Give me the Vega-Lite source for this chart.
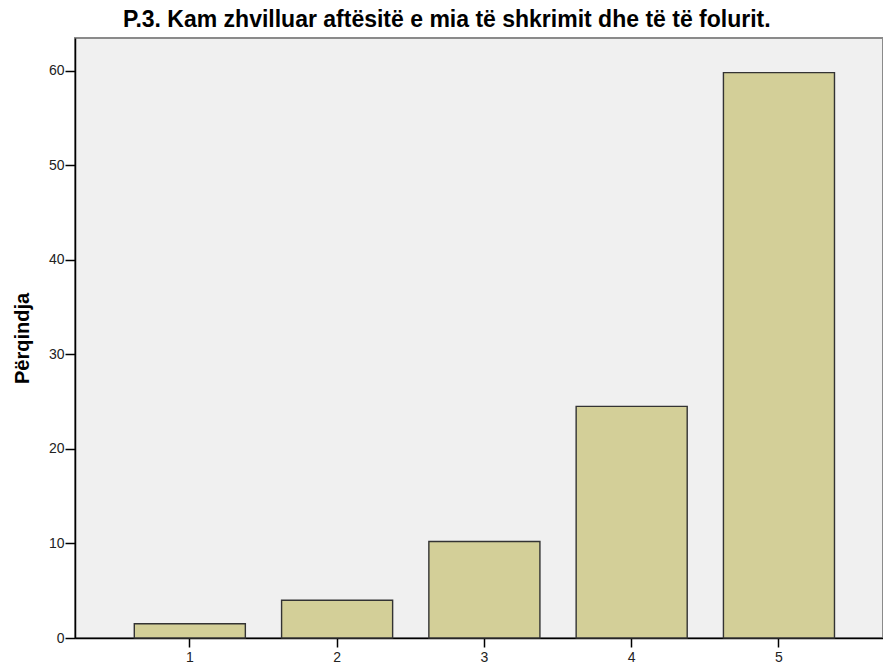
{
  "$schema": "https://vega.github.io/schema/vega-lite/v6.json",
  "width": 808,
  "height": 600,
  "autosize": {"type": "none"},
  "padding": {"left": 75, "top": 38, "right": 0, "bottom": 29},
  "background": "#ffffff",
  "title": {
    "text": "P.3. Kam zhvilluar aftësitë e mia të shkrimit dhe të të folurit.",
    "font": "Liberation Sans",
    "fontSize": 23,
    "fontWeight": "bold",
    "color": "#000000",
    "anchor": "start",
    "frame": "group",
    "dx": 48,
    "offset": 6
  },
  "config": {
    "view": {"fill": "#f0f0f0", "stroke": "#8a8a8a", "strokeWidth": 2},
    "axis": {
      "labelFont": "Liberation Sans",
      "titleFont": "Liberation Sans",
      "labelColor": "#222222",
      "domainColor": "#000000",
      "tickColor": "#000000",
      "grid": false
    }
  },
  "data": {
    "values": [
      {"kategoria": "1", "perqindja": 1.5},
      {"kategoria": "2", "perqindja": 4.0},
      {"kategoria": "3", "perqindja": 10.2},
      {"kategoria": "4", "perqindja": 24.5},
      {"kategoria": "5", "perqindja": 59.8}
    ]
  },
  "mark": {"type": "bar", "fill": "#d3cf98", "stroke": "#333333", "strokeWidth": 1.4},
  "encoding": {
    "x": {
      "field": "kategoria",
      "type": "nominal",
      "scale": {"paddingInner": 0.246, "paddingOuter": 0.366, "align": 0.55},
      "axis": {
        "title": null,
        "labelAngle": 0,
        "labelFontSize": 14,
        "tickSize": 9,
        "tickWidth": 1.5,
        "labelPadding": 3,
        "domainWidth": 1.5
      }
    },
    "y": {
      "field": "perqindja",
      "type": "quantitative",
      "scale": {"domain": [0, 63.46], "nice": false, "zero": true},
      "axis": {
        "title": "Përqindja",
        "titleFontSize": 20,
        "titleFontWeight": "bold",
        "titleColor": "#000000",
        "titleX": -53,
        "titleY": 300,
        "titleAlign": "center",
        "titleBaseline": "middle",
        "values": [0, 10, 20, 30, 40, 50, 60],
        "labelFontSize": 14,
        "tickSize": 10,
        "tickWidth": 1.5,
        "labelPadding": 1,
        "domainWidth": 1.5
      }
    }
  }
}
